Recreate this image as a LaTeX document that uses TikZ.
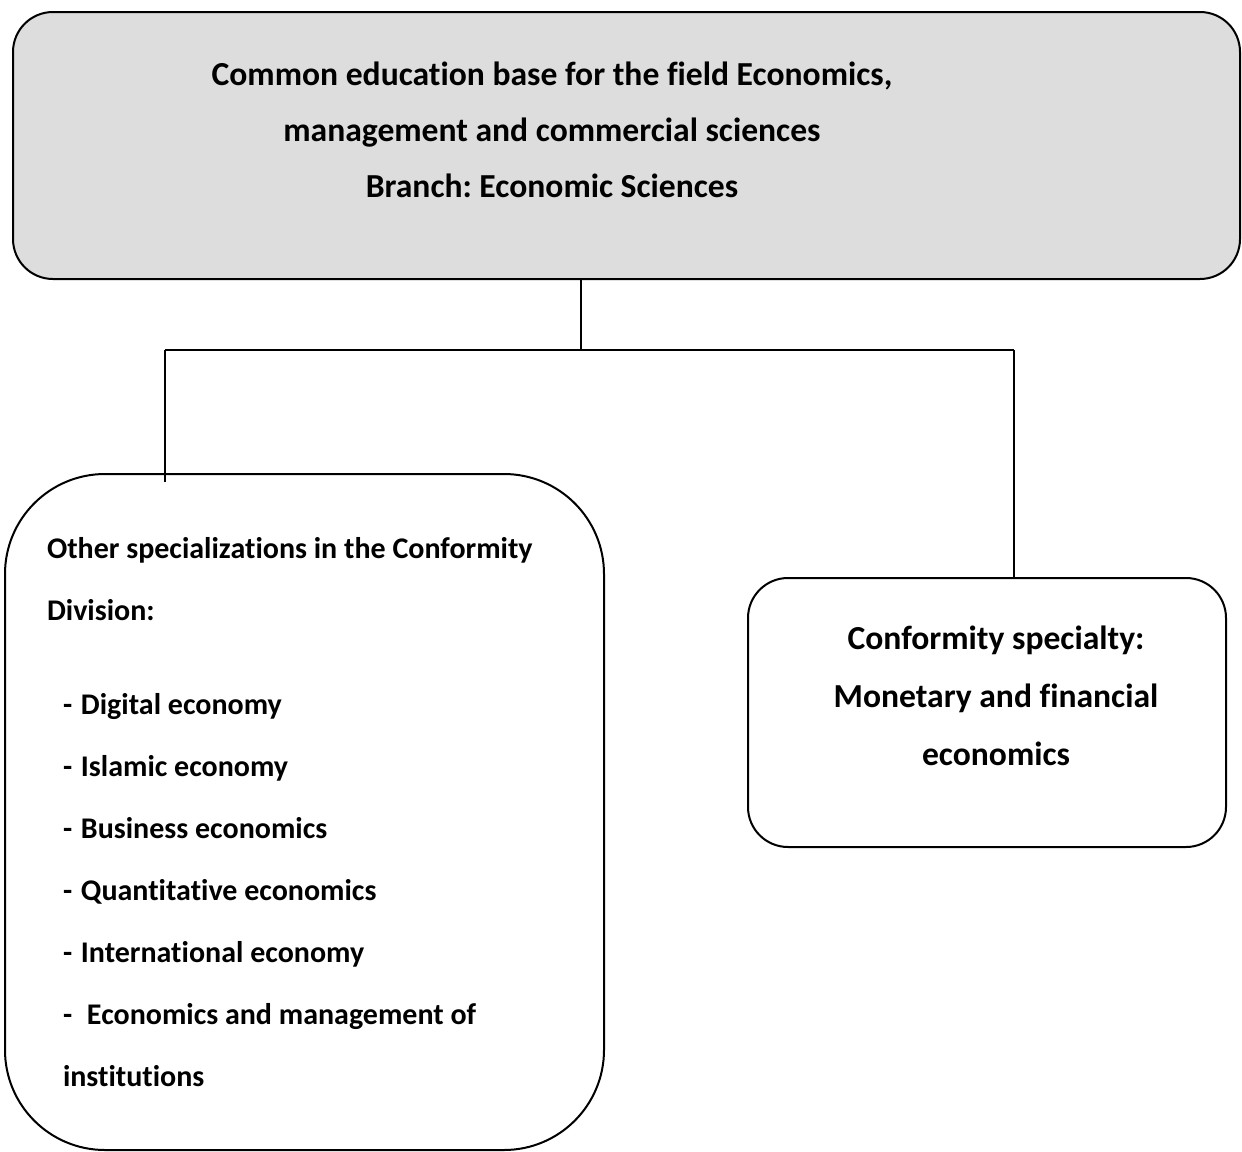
\documentclass[tikz,border=0pt]{standalone}
\usepackage{fontspec}
\setmainfont{Carlito}[Ligatures=NoCommon]
\usepackage{tikz}
\frenchspacing
\definecolor{boxgray}{HTML}{DDDDDD}
\tikzset{
  box/.style={draw, line width=1pt, inner sep=0pt},
  label/.style={font=\bfseries\fontsize{16.8}{28}\selectfont, align=center, inner sep=0pt},
  link/.style={line width=0.75pt}
}
\begin{document}
\begin{tikzpicture}[x=0.5pt, y=-0.5pt]
        \useasboundingbox (0,0) rectangle (1242,1151);
        \coordinate (top) at (581,350);
        \coordinate (l) at (165,350);
        \coordinate (r) at (1014,350);
        \node[box, fill=boxgray, rounded corners=20pt, minimum width=613.5pt, minimum height=133.5pt] (base) at (626.5,145.5) {};
        \node[label] (basetext) at (552,130) {Common education base for the field Economics,\\ management and commercial sciences\\ Branch: Economic Sciences};
        \node[box, rounded corners=50pt, minimum height=338pt, text width=257.5pt, inner xsep=21pt, align=flush left,
              font=\bfseries\fontsize{15}{31}\selectfont] (other) at (304.5,812) {Other specializations in the Conformity\\ Division:\\[16pt]
              \hspace*{8pt}- \hspace{1pt}Digital economy\\
              \hspace*{8pt}- \hspace{1pt}Islamic economy\\
              \hspace*{8pt}- \hspace{1pt}Business economics\\
              \hspace*{8pt}- \hspace{1pt}Quantitative economics\\
              \hspace*{8pt}- \hspace{1pt}International economy\\
              \hspace*{8pt}-\hspace{4pt} Economics and management of\\
              \hspace*{8pt}institutions};
        \node[box, rounded corners=20pt, minimum width=239pt, minimum height=134.5pt] (spec) at (987,712.5) {};
        \node[label, font=\bfseries\fontsize{16.8}{29}\selectfont] (spectext) at (996,695.5) {Conformity specialty:\\ Monetary and financial\\ economics};
        \draw[link] (top |- base.south) -- (top);
        \draw[link] (l) -- (r);
        \draw[link] (l) -- ++(0,132);
        \draw[link] (r) -- (r |- spec.north);
    \end{tikzpicture}
\end{document}
